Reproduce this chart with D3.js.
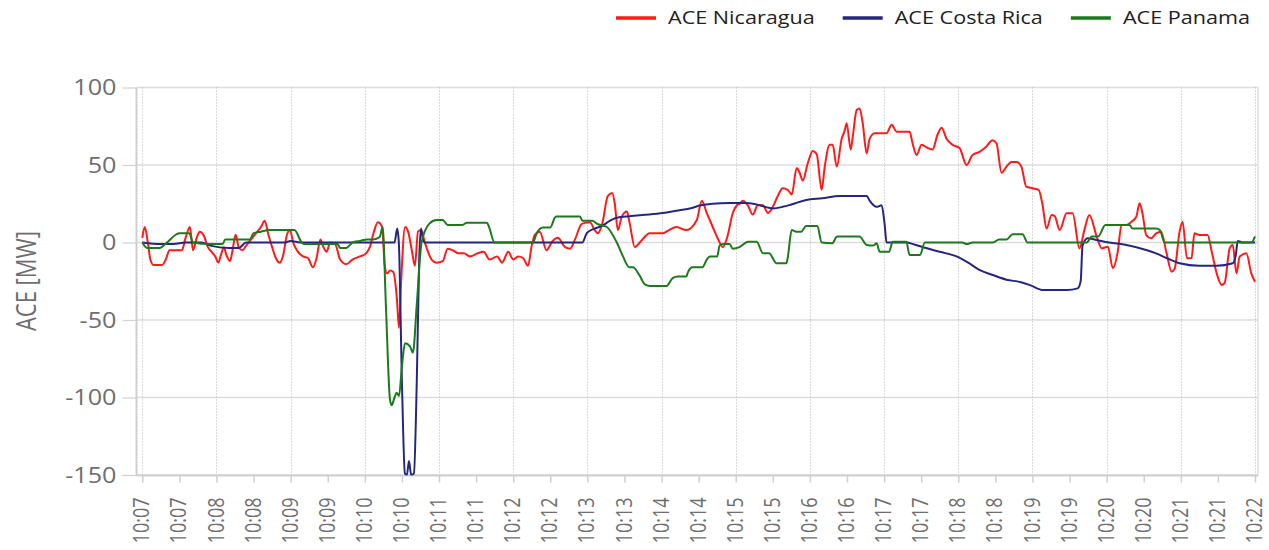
<!DOCTYPE html>
<html>
<head>
<meta charset="utf-8">
<script src="https://cdn.jsdelivr.net/npm/d3@7"></script>
<style>
  html, body { margin: 0; padding: 0; background: #ffffff; }
  svg { display: block; font-family: "Open Sans", "Noto Sans", sans-serif; }
</style>
</head>
<body>
<svg id="chart" width="1269" height="550"></svg>
<script>
// ---------------- data (seconds after 10:07:00, ACE in MW) ----------------
const startClock = "10:07:00";
const endClock = "10:22:00";
const seriesNames = ["ACE Nicaragua", "ACE Costa Rica", "ACE Panama"];
const yTickValues = [100, 50, 0, -50, -100, -150];
const yTitle = "ACE [MW]";

const nicaragua = [
[0,3],[2,10],[4.5,0],[6.5,-11],[9,-14.5],[16,-14.5],[19,-11],[22,-5],[32,-5],[35,3],[38.5,10],[41,-5],[44,3],[46.5,7],[50,4],[53,-3],[56,-6],[59,-9],[61.5,-13],[64,-7],[66,-3],[68,-8],[71,-12],[73,-5],[75.5,5],[78,-3],[81,-5],[84,-2],[88,2],[92,6],[96,10],[99,14],[102,5],[105,-3],[108,-10],[111,-13],[114,-8],[117,5],[119.5,8],[122,0],[126,-6],[130,-9],[134,-10],[138,-16],[141,-10],[144,2],[146,-2],[149,-6],[152,0],[156,-1],[160,-11],[165,-14],[170,-11],[176,-9],[181,-7],[184,-3],[187,6],[190.5,13],[194,10],[196,-14],[198,-20],[200.5,-18],[203,-19],[206,-37],[207.6,-55],[209.3,-26],[212.5,10],[215,7],[218,-5],[220.5,-15],[223,7],[225.5,8],[228.5,0],[234,-11],[238,-13],[243,-12],[247,-4],[251,-5],[256,-7],[260,-7],[265,-9],[271,-7],[276,-6],[281,-11],[287,-9],[291,-13],[296,-6],[300,-11],[304,-9],[308,-10],[312,-15],[315,-2],[317.5,5],[321.5,7],[327,-5],[331,0],[336,3],[342,-3],[346,-4],[350,2],[355.5,12],[362,13],[366,8],[368.5,6],[372,12],[376.5,30],[380,32],[382.2,25],[384.6,8],[388,17],[392,20],[394.3,12],[398.4,-3],[402.4,0],[410.5,6],[421,6],[426,8],[432,10],[440,8],[448.5,14.5],[452.5,27],[456.6,19],[461.4,10],[467,0],[469.5,-3],[473,3],[477.6,19],[481,24],[483.3,25],[485.7,27],[489.8,24],[493.8,18],[497.8,24],[502,24],[506,19],[510,23],[514,30],[518,35],[522,34],[525.3,31],[529.3,48],[531.7,45],[534.2,40],[538.2,51],[542.3,59],[545.5,57],[549.5,34],[552,49],[556,63],[558.4,63],[561.7,49],[565.7,67],[568.1,72],[569.7,77],[573,60],[574.6,68],[577.8,85.5],[580.2,86.5],[582.7,77],[585.9,57.5],[588.3,67],[592.4,70.5],[602,70.5],[606.1,76],[610.1,71.5],[620.6,71.5],[623,64],[626.3,56.5],[630.3,63],[635.2,61],[639.2,60],[643.2,69.5],[646.5,74],[650.5,67],[655.4,63],[661,61],[666.7,50],[671.5,56.5],[677.2,58.5],[682.8,62],[687.7,66],[690.9,64],[695,45],[699,49],[703,52],[707,52],[711,49],[715,36],[720,35],[725,34],[728,25],[731.4,9],[735.5,17.7],[738,17],[742,8],[747.6,18.8],[752.5,18.8],[758,-3.8],[762,8],[766,17.7],[772,3.8],[776,-3.8],[781,-2.7],[785,-16.6],[789,-5.9],[792,11.3],[796,11.3],[800,13.4],[804,16.6],[806.6,25.3],[809,18.8],[812,4.8],[816,2.7],[820,5.9],[824,7],[828.5,-7],[832.5,-18.8],[835,-17],[839,7],[841.4,13.4],[845,-10.2],[848.7,-10],[851,5.9],[855,4.8],[861.6,4.8],[865,-5.9],[869,-19.9],[873,-27.4],[875.5,-26],[879.5,-3.8],[882,-1.6],[885,-19.9],[887.6,-9.1],[893,-7],[897,-19.9],[900,-25.3]
];

const costaRica = [
[0,0],[15,-1],[25,-1],[35,0],[48,0],[55,-2],[70,-3.5],[78,-3.5],[84,0],[115,0],[120,1],[128,0],[204,0],[206.2,9],[207.5,0],[210,-90],[212.4,-149],[214,-150],[215.7,-141],[217.5,-150],[219.7,-149],[222,-90],[224,-10],[225.4,9],[227,2],[228.6,0],[356,0],[359.5,6],[366,9],[372.5,11],[378,14],[383.8,16],[394,17],[410,18],[421,19],[432,20.5],[442.8,22],[452,24],[461,25],[475,25.5],[489,25.5],[499.5,24],[506,22.5],[510,22],[518,23],[525,24.5],[537,27.4],[550,28.5],[564,30],[586,30],[588.3,27],[594,23],[598,24],[600.4,12],[602,0],[618,0],[625,-1.5],[634,-3.6],[645,-6],[658.6,-9],[668,-13],[677,-17.7],[688,-21],[699,-24],[710,-25.5],[718,-27.5],[728,-30.6],[748,-30.6],[756.5,-29.6],[759,-25],[760.5,-2],[764.6,2.7],[771.8,1.6],[782,0],[796,-1.6],[812,-4.8],[820,-7],[828.5,-10],[839,-13.4],[855,-15],[869,-15],[882,-13.4],[884.5,-8],[886,1],[890,0],[900,0]
];

const panama = [
[0,0],[4,-3.5],[14,-3.5],[20,0],[27,5],[30,6],[38,6],[41,0],[55,-1],[65,-1],[67,2],[87,2],[90,6],[96,7],[103,8],[123,8],[129,0],[131,-1],[158,-1],[160,-3.5],[165,-3.5],[170,0],[176,1],[182,2],[187,2],[192,3.5],[194.4,10],[197,-40],[200.3,-101],[201.7,-105],[204,-100],[205.7,-97],[207.6,-99],[210,-80],[212.5,-65],[216.5,-67],[218.9,-71],[222,-40],[225.9,0],[232,12],[238,14.5],[243,14.5],[247,11.3],[259,11.3],[262.5,12.8],[278.7,12.8],[280,11],[285,0],[316,0],[319,6],[324,9.7],[330,9.7],[333.7,16],[335,16.8],[354,16.8],[356,14],[364,14],[368,12],[372.5,10.8],[375.7,10],[383.8,0],[388.6,-8.6],[394,-16],[397,-16],[402,-21],[406.5,-27],[410.5,-28],[424,-28],[429,-23],[433,-22],[440,-22],[441.2,-19.4],[445,-16],[453,-16],[456.6,-11],[459,-9],[465,-9],[467,-2],[470,-1],[475,-1],[477.6,-4],[483,-3],[490,0.5],[497,0.5],[502,-7],[507,-7],[513,-13.4],[521,-13.4],[522,-10],[525.3,8],[529,7],[533,7],[537,10.6],[546,10.6],[549.5,0],[558,-0.5],[562,3.8],[580,3.8],[586,-1.6],[591,-2],[594,-0.5],[596.4,-6],[604,-6],[607,0.5],[618,0.5],[620.6,-8],[629,-8],[633,0],[663,0],[667,-1],[671.5,0],[688,0],[693,2],[699,2],[704,5.3],[712,5.3],[716,0],[764,0],[768,3.8],[773,3.8],[779,11.3],[798.5,11.3],[801,9],[820,9],[823,8],[827,0],[897,0],[900,4]
];

// ---------------- drawing ----------------
const seriesColors = ["#ff1a1a", "#262680", "#1c7a1c"];
const svg = d3.select("#chart");
const parseClock = d3.timeParse("%Y-%m-%d %H:%M:%S");
const t0 = parseClock("2000-01-01 " + startClock);
const t1 = parseClock("2000-01-01 " + endClock);
const toDate = s => new Date(t0.getTime() + s * 1000);

const plot = { left: 136.5, right: 1258, top: 87.5, bottom: 475.5 };
const x = d3.scaleTime().domain([t0, t1]).range([142.3, 1255]);
const y = d3.scaleLinear().domain([-150, 100]).range([475, 87.5]);
const STRETCH = 1.2;

// horizontal grid
svg.append("g").selectAll("line").data(yTickValues).join("line")
  .attr("x1", plot.left).attr("x2", plot.right)
  .attr("y1", d => y(d)).attr("y2", d => y(d))
  .attr("stroke", "#dcdcdc").attr("stroke-width", 1.3);

// vertical dotted grid (every minute)
const xTicks = d3.timeSecond.every(30).range(t0, new Date(t1.getTime() + 1));
svg.append("g").selectAll("line").data(xTicks.filter((d, i) => i % 2 === 0)).join("line")
  .attr("x1", d => Math.round(x(d)) + 0.5).attr("x2", d => Math.round(x(d)) + 0.5)
  .attr("y1", plot.top).attr("y2", plot.bottom)
  .attr("stroke", "#b4b4b4").attr("stroke-width", 1).attr("stroke-dasharray", "1,2");

// right border
svg.append("line").attr("x1", plot.right).attr("x2", plot.right)
  .attr("y1", plot.top).attr("y2", plot.bottom)
  .attr("stroke", "#dcdcdc").attr("stroke-width", 1.3);

// y axis
const yAxis = svg.append("g").attr("transform", `translate(${plot.left},0)`)
  .call(d3.axisLeft(y).tickValues(yTickValues).tickSize(14).tickPadding(6)
    .tickFormat(d => String(d)));
yAxis.select(".domain").remove();
yAxis.selectAll(".tick line").attr("stroke", "#d4d4d4").attr("stroke-width", 1.3);
yAxis.selectAll(".tick text")
  .attr("x", null).attr("dy", "0.35em")
  .attr("transform", `translate(-20,0) scale(${STRETCH},1)`)
  .attr("fill", "#6e6e6e").style("font-size", "21px").style("font-family", "Open Sans")
  .attr("text-anchor", "end");
svg.append("line").attr("x1", plot.left).attr("x2", plot.left)
  .attr("y1", plot.top).attr("y2", plot.bottom + 0.5)
  .attr("stroke", "#cfcfcf").attr("stroke-width", 2);

// x axis
const xAxis = svg.append("g").attr("transform", `translate(0,${plot.bottom})`)
  .call(d3.axisBottom(x).tickValues(xTicks).tickSize(7).tickFormat(d3.timeFormat("%H:%M")));
xAxis.select(".domain").remove();
xAxis.selectAll(".tick line").attr("stroke", "#cfcfcf").attr("stroke-width", 1.5);
xAxis.selectAll(".tick text")
  .attr("y", null).attr("x", null).attr("dy", "0.35em")
  .attr("transform", `translate(-1,22) scale(${STRETCH},1) rotate(-90)`)
  .attr("text-anchor", "end")
  .attr("fill", "#6e6e6e").style("font-size", "18px").style("font-family", "Open Sans");
svg.append("line").attr("x1", plot.left).attr("x2", plot.right)
  .attr("y1", plot.bottom).attr("y2", plot.bottom)
  .attr("stroke", "#cfcfcf").attr("stroke-width", 2);

// y title
svg.append("text").text(yTitle)
  .attr("transform", `translate(27,281) scale(${STRETCH},1) rotate(-90)`)
  .attr("text-anchor", "middle").attr("dy", "0.35em")
  .attr("fill", "#6e6e6e").style("font-size", "22px");

// lines
svg.append("clipPath").attr("id", "clip").append("rect")
  .attr("x", plot.left).attr("y", plot.top - 2)
  .attr("width", plot.right - plot.left).attr("height", plot.bottom - plot.top + 2);
const line = d3.line().x(d => x(toDate(d[0]))).y(d => y(d[1])).curve(d3.curveMonotoneX);
const allSeries = [nicaragua, costaRica, panama];
svg.append("g").attr("clip-path", "url(#clip)").selectAll("path").data(allSeries).join("path")
  .attr("d", line).attr("fill", "none")
  .attr("stroke", (d, i) => seriesColors[i]).attr("stroke-width", 2)
  .attr("stroke-linejoin", "round");

// legend
const legend = svg.append("g");
let lx = 616;
seriesNames.forEach((name, i) => {
  legend.append("line").attr("x1", lx).attr("x2", lx + 40).attr("y1", 18).attr("y2", 18)
    .attr("stroke", seriesColors[i]).attr("stroke-width", 3.5);
  const t = legend.append("text").text(name)
    .attr("transform", `translate(${lx + 52},18) scale(${STRETCH},1)`)
    .attr("dy", "0.35em").attr("fill", "#222").style("font-size", "18px");
  lx += 52 + t.node().getComputedTextLength() * STRETCH + 28;
});
</script>
</body>
</html>
